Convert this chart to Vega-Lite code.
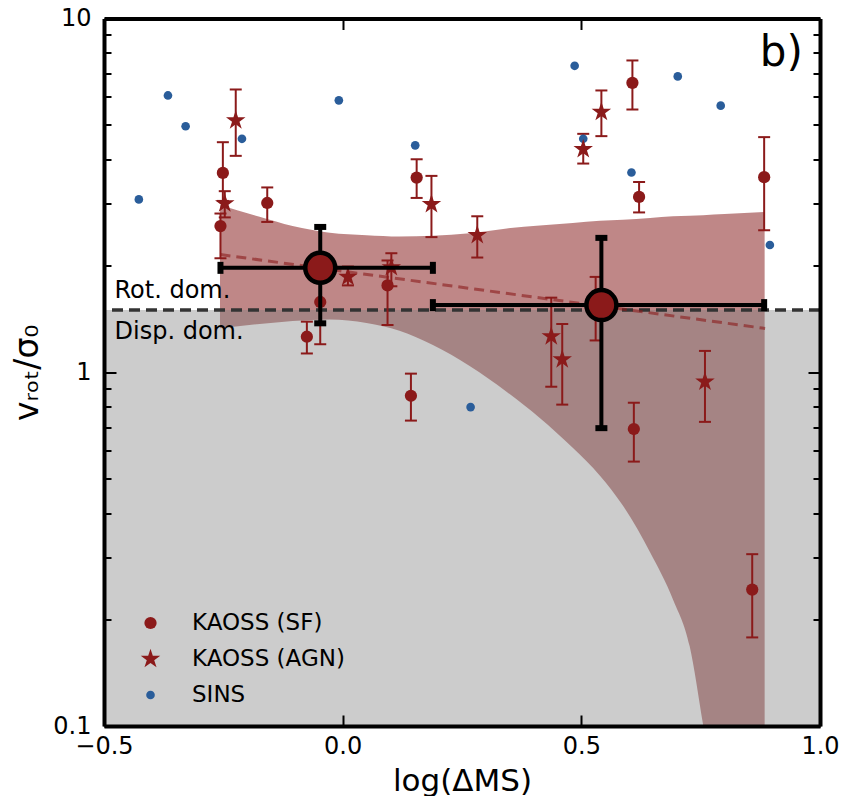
{
  "$schema": "https://vega.github.io/schema/vega-lite/v6.json",
  "width": 716,
  "height": 707.5,
  "autosize": {"type": "none"},
  "padding": {"left": 104, "top": 18.5, "right": 32, "bottom": 70},
  "background": "white",
  "config": {
    "view": {"stroke": null},
    "font": "DejaVu Sans",
    "legend": {"labelFont": "DejaVu Sans"}
  },
  "datasets": {
    "band": [
      {"x": -0.257, "lo": 1.331, "hi": 2.97},
      {"x": -0.174, "lo": 1.369, "hi": 2.75},
      {"x": -0.105, "lo": 1.397, "hi": 2.59},
      {"x": -0.027, "lo": 1.41, "hi": 2.48},
      {"x": 0.05, "lo": 1.378, "hi": 2.44},
      {"x": 0.119, "lo": 1.31, "hi": 2.42},
      {"x": 0.189, "lo": 1.194, "hi": 2.43},
      {"x": 0.266, "lo": 1.042, "hi": 2.47},
      {"x": 0.344, "lo": 0.88, "hi": 2.55},
      {"x": 0.413, "lo": 0.743, "hi": 2.6},
      {"x": 0.482, "lo": 0.612, "hi": 2.64},
      {"x": 0.539, "lo": 0.51, "hi": 2.68},
      {"x": 0.587, "lo": 0.42, "hi": 2.7},
      {"x": 0.644, "lo": 0.31, "hi": 2.73},
      {"x": 0.692, "lo": 0.228, "hi": 2.76},
      {"x": 0.727, "lo": 0.168, "hi": 2.77},
      {"x": 0.755, "lo": 0.101, "hi": 2.78},
      {"x": 0.8, "lo": 0.04, "hi": 2.8},
      {"x": 0.884, "lo": 0.01, "hi": 2.84}
    ],
    "region": [{"x": -0.5, "x2": 1.0, "y": 0.1, "y2": 1.5}],
    "fit": [{"x": -0.256, "y": 2.151}, {"x": 0.885, "y": 1.33}],
    "labels": [
      {"x": -0.478, "y": 1.62, "text": "Rot. dom."},
      {"x": -0.478, "y": 1.24, "text": "Disp. dom."}
    ],
    "panel": [{"x": 0.964, "y": 7.32, "text": "b)"}],
    "pts": [
      {"sample": "SINS", "x": -0.427, "y": 3.08},
      {"sample": "SINS", "x": -0.366, "y": 6.06},
      {"sample": "SINS", "x": -0.329, "y": 4.96},
      {"sample": "SINS", "x": -0.211, "y": 4.57},
      {"sample": "SINS", "x": -0.008, "y": 5.87},
      {"sample": "SINS", "x": 0.152, "y": 4.38},
      {"sample": "SINS", "x": 0.268, "y": 0.797},
      {"sample": "SINS", "x": 0.486, "y": 7.35},
      {"sample": "SINS", "x": 0.504, "y": 4.57},
      {"sample": "SINS", "x": 0.605, "y": 3.67},
      {"sample": "SINS", "x": 0.702, "y": 6.86},
      {"sample": "SINS", "x": 0.792, "y": 5.67},
      {"sample": "SINS", "x": 0.895, "y": 2.29},
      {"sample": "KAOSS (SF)", "x": -0.251, "y": 3.66, "lo": 3.05, "hi": 4.47},
      {"sample": "KAOSS (SF)", "x": -0.256, "y": 2.59, "lo": 2.1, "hi": 2.81},
      {"sample": "KAOSS (SF)", "x": -0.158, "y": 3.01, "lo": 2.66, "hi": 3.33},
      {"sample": "KAOSS (SF)", "x": 0.155, "y": 3.55, "lo": 3.11, "hi": 4.0},
      {"sample": "KAOSS (SF)", "x": -0.075, "y": 1.26, "lo": 1.13, "hi": 1.39},
      {"sample": "KAOSS (SF)", "x": -0.047, "y": 1.58, "lo": 1.2, "hi": 2.05},
      {"sample": "KAOSS (SF)", "x": 0.094, "y": 1.76, "lo": 1.36, "hi": 2.07},
      {"sample": "KAOSS (SF)", "x": 0.143, "y": 0.858, "lo": 0.73, "hi": 0.991},
      {"sample": "KAOSS (SF)", "x": 0.53, "y": 1.52, "lo": 1.23, "hi": 1.86},
      {"sample": "KAOSS (SF)", "x": 0.61, "y": 0.691, "lo": 0.559, "hi": 0.82},
      {"sample": "KAOSS (SF)", "x": 0.607, "y": 6.58, "lo": 5.53, "hi": 7.61},
      {"sample": "KAOSS (SF)", "x": 0.621, "y": 3.13, "lo": 2.83, "hi": 3.45},
      {"sample": "KAOSS (SF)", "x": 0.883, "y": 3.56, "lo": 2.52, "hi": 4.62},
      {"sample": "KAOSS (SF)", "x": 0.858, "y": 0.243, "lo": 0.178, "hi": 0.306},
      {"sample": "KAOSS (AGN)", "x": -0.224, "y": 5.15, "lo": 4.09, "hi": 6.3},
      {"sample": "KAOSS (AGN)", "x": -0.247, "y": 3.0, "lo": 2.74, "hi": 3.25},
      {"sample": "KAOSS (AGN)", "x": 0.186, "y": 2.985, "lo": 2.41, "hi": 3.59},
      {"sample": "KAOSS (AGN)", "x": 0.011, "y": 1.86, "lo": 1.76, "hi": 1.99},
      {"sample": "KAOSS (AGN)", "x": 0.102, "y": 1.98, "lo": 1.75, "hi": 2.17},
      {"sample": "KAOSS (AGN)", "x": 0.282, "y": 2.44, "lo": 2.11, "hi": 2.76},
      {"sample": "KAOSS (AGN)", "x": 0.437, "y": 1.263, "lo": 0.91, "hi": 1.625},
      {"sample": "KAOSS (AGN)", "x": 0.46, "y": 1.087, "lo": 0.81, "hi": 1.369},
      {"sample": "KAOSS (AGN)", "x": 0.504, "y": 4.27, "lo": 3.89, "hi": 4.72},
      {"sample": "KAOSS (AGN)", "x": 0.542, "y": 5.44, "lo": 4.65, "hi": 6.26},
      {"sample": "KAOSS (AGN)", "x": 0.759, "y": 0.94, "lo": 0.724, "hi": 1.149}
    ],
    "big": [
      {"x": -0.047, "y": 1.973, "lo": 1.375, "hi": 2.575, "xlo": -0.256, "xhi": 0.189},
      {"x": 0.542, "y": 1.548, "lo": 0.695, "hi": 2.398, "xlo": 0.189, "xhi": 0.883}
    ]
  },
  "resolve": {"axis": {"x": "independent", "y": "independent"}},
  "layer": [
    {
      "data": {"name": "band"},
      "mark": {"type": "area", "color": "#7f1010", "opacity": 0.5, "clip": true, "interpolate": "monotone"},
      "encoding": {
        "x": {"field": "x", "type": "quantitative",
          "scale": {"domain": [-0.5, 1.0], "nice": false, "zero": false},
          "axis": {"orient": "bottom", "values": [-0.5, 0, 0.5, 1.0], "format": ".1f",
            "tickSize": -11, "tickWidth": 2, "tickColor": "black",
            "domainWidth": 4, "domainColor": "black",
            "labelFontSize": 24, "labelFont": "DejaVu Sans", "labelColor": "black",
            "labelPadding": 19, "labelFlush": false, "labelOverlap": false,
            "title": "log(ΔMS)", "titleFontSize": 31, "titleFont": "DejaVu Sans",
            "titleFontWeight": "normal", "titleColor": "black", "titlePadding": 8,
            "grid": false, "zindex": 1}},
        "y": {"field": "lo", "type": "quantitative",
          "scale": {"type": "log", "domain": [0.1, 10], "nice": false, "zero": false},
          "axis": {"orient": "left",
            "values": [0.1, 0.2, 0.3, 0.4, 0.5, 0.6, 0.7, 0.8, 0.9, 1, 2, 3, 4, 5, 6, 7, 8, 9, 10],
            "format": "~g",
            "labelExpr": "datum.value == 0.1 || datum.value == 1 || datum.value == 10 ? datum.label : ''",
            "tickSize": {"condition": {"test": "datum.value == 0.1 || datum.value == 1 || datum.value == 10", "value": -12}, "value": -7},
            "tickWidth": 2, "tickColor": "black",
            "domainWidth": 4, "domainColor": "black",
            "labelFontSize": 24, "labelFont": "DejaVu Sans", "labelColor": "black",
            "labelPadding": 25, "labelFlush": false, "labelOverlap": false,
            "title": "vᵣₒₜ/σ₀", "titleFontSize": 33, "titleFont": "DejaVu Sans",
            "titleFontWeight": "normal", "titleColor": "black", "titlePadding": 8,
            "grid": false, "zindex": 1}},
        "y2": {"field": "hi"}
      }
    },
    {
      "data": {"name": "region"},
      "mark": {"type": "rect", "color": "#808080", "opacity": 0.4},
      "encoding": {
        "x": {"field": "x", "type": "quantitative",
          "scale": {"domain": [-0.5, 1.0], "nice": false, "zero": false},
          "axis": {"orient": "top", "values": [-0.5, 0, 0.5, 1.0], "labels": false,
            "tickSize": -11, "tickWidth": 2, "tickColor": "black",
            "domainWidth": 4, "domainColor": "black", "title": null, "grid": false, "zindex": 1}},
        "x2": {"field": "x2"},
        "y": {"field": "y", "type": "quantitative",
          "scale": {"type": "log", "domain": [0.1, 10], "nice": false, "zero": false},
          "axis": {"orient": "right",
            "values": [0.1, 0.2, 0.3, 0.4, 0.5, 0.6, 0.7, 0.8, 0.9, 1, 2, 3, 4, 5, 6, 7, 8, 9, 10],
            "labels": false,
            "tickSize": {"condition": {"test": "datum.value == 0.1 || datum.value == 1 || datum.value == 10", "value": -12}, "value": -7},
            "tickWidth": 2, "tickColor": "black",
            "domainWidth": 4, "domainColor": "black", "title": null, "grid": false, "zindex": 1}},
        "y2": {"field": "y2"}
      }
    },
    {
      "data": {"values": [{"y": 1.5}]},
      "mark": {"type": "rule", "color": "#333333", "strokeWidth": 3.5, "strokeDash": [11, 6]},
      "encoding": {
        "y": {"field": "y", "type": "quantitative", "axis": null}
      }
    },
    {
      "data": {"name": "fit"},
      "mark": {"type": "line", "color": "#8b1a1a", "opacity": 0.6, "strokeWidth": 3, "strokeDash": [10, 6]},
      "encoding": {
        "x": {"field": "x", "type": "quantitative", "axis": null},
        "y": {"field": "y", "type": "quantitative", "axis": null}
      }
    },
    {
      "data": {"name": "labels"},
      "mark": {"type": "text", "align": "left", "baseline": "alphabetic", "fontSize": 24, "font": "DejaVu Sans", "color": "black"},
      "encoding": {
        "x": {"field": "x", "type": "quantitative", "axis": null},
        "y": {"field": "y", "type": "quantitative", "axis": null},
        "text": {"field": "text"}
      }
    },
    {
      "data": {"name": "panel"},
      "mark": {"type": "text", "align": "right", "baseline": "alphabetic", "fontSize": 42, "font": "DejaVu Sans", "color": "black"},
      "encoding": {
        "x": {"field": "x", "type": "quantitative", "axis": null},
        "y": {"field": "y", "type": "quantitative", "axis": null},
        "text": {"field": "text"}
      }
    },
    {
      "data": {"name": "pts"},
      "transform": [{"filter": "datum.lo != null"}],
      "mark": {"type": "rule", "color": "#8b1a1a", "strokeWidth": 2},
      "encoding": {
        "x": {"field": "x", "type": "quantitative", "axis": null},
        "y": {"field": "lo", "type": "quantitative", "axis": null},
        "y2": {"field": "hi"}
      }
    },
    {
      "data": {"name": "pts"},
      "transform": [{"filter": "datum.lo != null"}],
      "mark": {"type": "tick", "orient": "horizontal", "color": "#8b1a1a", "size": 12, "thickness": 2, "opacity": 1},
      "encoding": {
        "x": {"field": "x", "type": "quantitative", "axis": null},
        "y": {"field": "lo", "type": "quantitative", "axis": null}
      }
    },
    {
      "data": {"name": "pts"},
      "transform": [{"filter": "datum.lo != null"}],
      "mark": {"type": "tick", "orient": "horizontal", "color": "#8b1a1a", "size": 12, "thickness": 2, "opacity": 1},
      "encoding": {
        "x": {"field": "x", "type": "quantitative", "axis": null},
        "y": {"field": "hi", "type": "quantitative", "axis": null}
      }
    },
    {
      "data": {"name": "pts"},
      "mark": {"type": "point", "filled": true, "opacity": 1, "strokeWidth": 0},
      "encoding": {
        "x": {"field": "x", "type": "quantitative", "axis": null},
        "y": {"field": "y", "type": "quantitative", "axis": null},
        "color": {"field": "sample", "type": "nominal",
          "scale": {"domain": ["KAOSS (SF)", "KAOSS (AGN)", "SINS"], "range": ["#8b1a1a", "#8b1a1a", "#2a5d9a"]},
          "legend": {"orient": "none", "legendX": 35, "legendY": 593, "title": null,
            "labelFontSize": 23, "labelFont": "DejaVu Sans", "labelColor": "black",
            "labelOffset": 30, "rowPadding": 12, "padding": 0,
            "symbolOpacity": 1, "symbolStrokeWidth": 0}},
        "shape": {"field": "sample", "type": "nominal",
          "scale": {"domain": ["KAOSS (SF)", "KAOSS (AGN)", "SINS"],
            "range": ["circle", "M0,-1L0.2245,-0.309L0.951,-0.309L0.363,0.118L0.588,0.809L0,0.382L-0.588,0.809L-0.363,0.118L-0.951,-0.309L-0.2245,-0.309Z", "circle"]},
          "legend": {"orient": "none", "legendX": 35, "legendY": 593, "title": null,
            "labelFontSize": 23, "labelFont": "DejaVu Sans", "labelColor": "black",
            "labelOffset": 30, "rowPadding": 12, "padding": 0,
            "symbolOpacity": 1, "symbolStrokeWidth": 0}},
        "size": {"field": "sample", "type": "nominal",
          "scale": {"type": "ordinal", "domain": ["KAOSS (SF)", "KAOSS (AGN)", "SINS"], "range": [150, 420, 75]},
          "legend": {"orient": "none", "legendX": 35, "legendY": 593, "title": null,
            "labelFontSize": 23, "labelFont": "DejaVu Sans", "labelColor": "black",
            "labelOffset": 30, "rowPadding": 12, "padding": 0,
            "symbolOpacity": 1, "symbolStrokeWidth": 0}}
      }
    },
    {
      "data": {"name": "big"},
      "mark": {"type": "rule", "color": "black", "strokeWidth": 4},
      "encoding": {
        "x": {"field": "x", "type": "quantitative", "axis": null},
        "y": {"field": "lo", "type": "quantitative", "axis": null},
        "y2": {"field": "hi"}
      }
    },
    {
      "data": {"name": "big"},
      "mark": {"type": "rule", "color": "black", "strokeWidth": 4},
      "encoding": {
        "x": {"field": "xlo", "type": "quantitative", "axis": null},
        "x2": {"field": "xhi"},
        "y": {"field": "y", "type": "quantitative", "axis": null}
      }
    },
    {
      "data": {"name": "big"},
      "mark": {"type": "tick", "orient": "horizontal", "color": "black", "size": 12, "thickness": 6, "opacity": 1},
      "encoding": {
        "x": {"field": "x", "type": "quantitative", "axis": null},
        "y": {"field": "lo", "type": "quantitative", "axis": null}
      }
    },
    {
      "data": {"name": "big"},
      "mark": {"type": "tick", "orient": "horizontal", "color": "black", "size": 12, "thickness": 6, "opacity": 1},
      "encoding": {
        "x": {"field": "x", "type": "quantitative", "axis": null},
        "y": {"field": "hi", "type": "quantitative", "axis": null}
      }
    },
    {
      "data": {"name": "big"},
      "mark": {"type": "tick", "orient": "vertical", "color": "black", "size": 12, "thickness": 6, "opacity": 1},
      "encoding": {
        "x": {"field": "xlo", "type": "quantitative", "axis": null},
        "y": {"field": "y", "type": "quantitative", "axis": null}
      }
    },
    {
      "data": {"name": "big"},
      "mark": {"type": "tick", "orient": "vertical", "color": "black", "size": 12, "thickness": 6, "opacity": 1},
      "encoding": {
        "x": {"field": "xhi", "type": "quantitative", "axis": null},
        "y": {"field": "y", "type": "quantitative", "axis": null}
      }
    },
    {
      "data": {"name": "big"},
      "mark": {"type": "point", "shape": "circle", "filled": true, "fill": "#8b1a1a", "stroke": "black", "strokeWidth": 4.5, "size": 900, "opacity": 1},
      "encoding": {
        "x": {"field": "x", "type": "quantitative", "axis": null},
        "y": {"field": "y", "type": "quantitative", "axis": null}
      }
    }
  ]
}
